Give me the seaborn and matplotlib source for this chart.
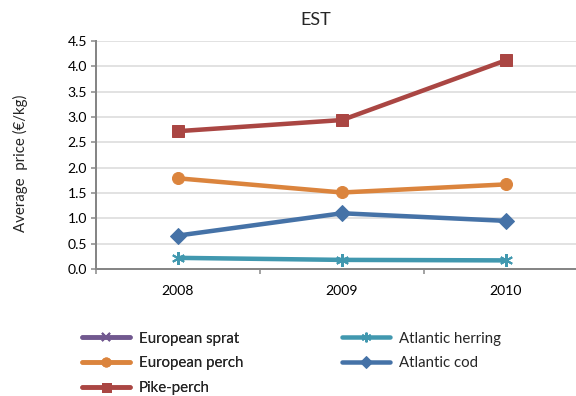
import numpy as np
import pandas as pd
import matplotlib
matplotlib.use("Agg")
import matplotlib.pyplot as plt
from matplotlib.lines import Line2D
from matplotlib.ticker import MultipleLocator, FixedLocator
import seaborn as sns

# Data
years = ["2008", "2009", "2010"]
sprat = [np.nan, np.nan, np.nan]
herring = [0.22, 0.18, 0.17]
perch = [1.79, 1.51, 1.67]
cod = [0.66, 1.10, 0.95]
pike_perch = [2.72, 2.94, 4.12]

series = {
    "European sprat": sprat,
    "Atlantic herring": herring,
    "European perch": perch,
    "Atlantic cod": cod,
    "Pike-perch": pike_perch,
}
colors = {
    "European sprat": "#71588F",
    "Atlantic herring": "#4198AF",
    "European perch": "#DB843D",
    "Atlantic cod": "#4572A7",
    "Pike-perch": "#AA4643",
}
markers = {
    "European sprat": "x",
    "Atlantic herring": (6, 2, 0),
    "European perch": "o",
    "Atlantic cod": "D",
    "Pike-perch": "s",
}
msizes = {
    "European sprat": 11,
    "Atlantic herring": 13,
    "European perch": 12,
    "Atlantic cod": 11,
    "Pike-perch": 12,
}

sns.set_theme(style="white")
plt.rcParams["font.family"] = ["Lato", "DejaVu Sans"]

fig = plt.figure(figsize=(8, 5.5), dpi=72)
ax = fig.add_axes([0.1667, 0.3207, 0.8542, 0.5758])

xpos = np.arange(len(years))
handles = {}
for name, vals in series.items():
    df = pd.DataFrame({"x": xpos, "y": vals}).dropna()
    c = colors[name]
    mk = markers[name]
    ms = msizes[name]
    mew = 2 if name in ("European sprat", "Atlantic herring") else 1
    if len(df):
        sns.lineplot(data=df, x="x", y="y", ax=ax, color=c, linewidth=4.5,
                     marker=mk, markersize=ms, markeredgecolor=c,
                     markeredgewidth=mew, markerfacecolor=c, zorder=3)
    handles[name] = Line2D([], [], color=c, linewidth=4.5, marker=mk,
                           markersize=ms * 0.75, markeredgecolor=c,
                           markeredgewidth=mew, markerfacecolor=c)

ax.set_xlim(-0.5, 2.5)
ax.set_ylim(0, 4.5)
ax.yaxis.set_major_locator(MultipleLocator(0.5))
ax.yaxis.set_major_formatter(matplotlib.ticker.FormatStrFormatter("%.1f"))
ax.set_xticks(xpos)
ax.set_xticklabels(years)
ax.xaxis.set_minor_locator(FixedLocator([-0.5, 0.5, 1.5, 2.5]))
ax.tick_params(axis="x", which="major", length=0, pad=16, labelsize=14, colors="black")
ax.tick_params(axis="x", which="minor", length=5, width=1.5, color="#868686", direction="out", bottom=True)
ax.tick_params(axis="y", which="major", length=5, width=1.5, color="#868686", direction="out",
               left=True, labelsize=14, labelcolor="black", pad=4)

ax.grid(axis="y", color="#D9D9D9", linewidth=1.5)
ax.set_axisbelow(True)
for s in ["top", "right"]:
    ax.spines[s].set_visible(False)
for s in ["left", "bottom"]:
    ax.spines[s].set_color("#868686")
    ax.spines[s].set_linewidth(2)
ax.spines["bottom"].set_zorder(2)

ax.set_xlabel("")
ax.set_ylabel("")
fig.text(0.036, 0.588, "Average  price (€/kg)", rotation=90, ha="center", va="center", fontsize=15)
fig.text(0.549, 0.95, "EST", ha="center", va="center", fontsize=18)

col1 = ["European sprat", "European perch", "Pike-perch"]
col2 = ["Atlantic herring", "Atlantic cod"]
leg_kw = dict(loc="upper left", frameon=False, fontsize=15, handlelength=3.2,
              labelspacing=0.72, handletextpad=0.6, borderaxespad=0)
leg1 = fig.legend([handles[n] for n in col1], col1, bbox_to_anchor=(0.132, 0.178), **leg_kw)
fig.add_artist(leg1)
fig.legend([handles[n] for n in col2], col2, bbox_to_anchor=(0.584, 0.178), **leg_kw)

fig.savefig("out.png", dpi=72)
